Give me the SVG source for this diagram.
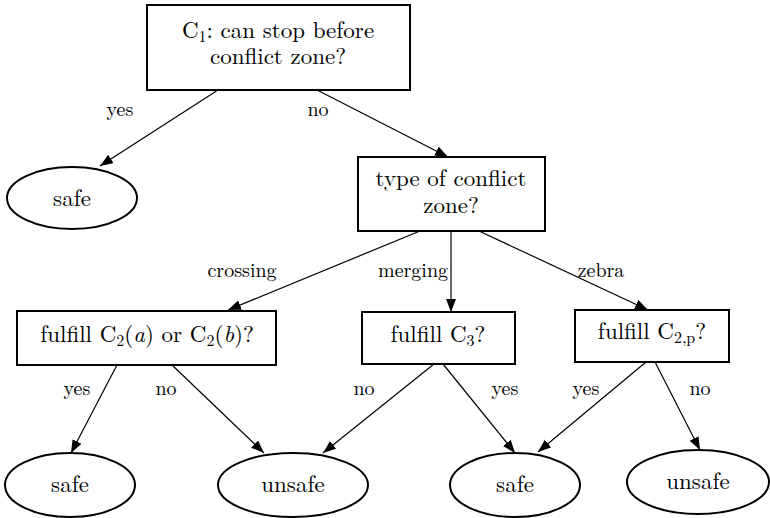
<svg xmlns="http://www.w3.org/2000/svg" width="770" height="518" viewBox="0 0 770 518">
<style>
.box{fill:#fff;stroke:#000;stroke-width:2}
.ell{fill:#fff;stroke:#000;stroke-width:2}
.t{font-size:23px;text-anchor:middle;fill:#000}
.l{font-size:20px;text-anchor:middle;fill:#000}
.e{stroke:#000;stroke-width:1.2;fill:none;marker-end:url(#ah)}
</style>
<defs>
<marker id="ah" markerUnits="userSpaceOnUse" markerWidth="14" markerHeight="11" refX="13" refY="5" orient="auto">
<path d="M0,0 L13,5 L0,10 z" fill="#000"/>
</marker>
</defs>
<g id="connectors">
<line class="e" x1="218" y1="90" x2="100" y2="166"/>
<line class="e" x1="317" y1="90" x2="448" y2="157"/>
<line class="e" x1="420" y1="231" x2="228" y2="310"/>
<line class="e" x1="451" y1="231" x2="451" y2="312"/>
<line class="e" x1="479" y1="231" x2="648" y2="310"/>
<line class="e" x1="117" y1="365" x2="71" y2="453"/>
<line class="e" x1="172" y1="365" x2="264" y2="453"/>
<line class="e" x1="434" y1="364" x2="323" y2="453"/>
<line class="e" x1="443" y1="364" x2="515" y2="453"/>
<line class="e" x1="646" y1="362" x2="538" y2="452"/>
<line class="e" x1="655" y1="362" x2="700" y2="450"/>
<text class="l" font-family="Latin Modern Roman, Liberation Serif, serif" x="120" y="116">yes</text>
<text class="l" font-family="Latin Modern Roman, Liberation Serif, serif" x="318" y="116">no</text>
<text class="l" font-family="Latin Modern Roman, Liberation Serif, serif" x="242" y="277">crossing</text>
<text class="l" font-family="Latin Modern Roman, Liberation Serif, serif" x="413" y="277">merging</text>
<text class="l" font-family="Latin Modern Roman, Liberation Serif, serif" x="601" y="277">zebra</text>
<text class="l" font-family="Latin Modern Roman, Liberation Serif, serif" x="77" y="395">yes</text>
<text class="l" font-family="Latin Modern Roman, Liberation Serif, serif" x="166" y="395">no</text>
<text class="l" font-family="Latin Modern Roman, Liberation Serif, serif" x="364" y="395">no</text>
<text class="l" font-family="Latin Modern Roman, Liberation Serif, serif" x="505" y="395">yes</text>
<text class="l" font-family="Latin Modern Roman, Liberation Serif, serif" x="586" y="395">yes</text>
<text class="l" font-family="Latin Modern Roman, Liberation Serif, serif" x="700" y="395">no</text>
</g>
<g id="n_c1">
<rect class="box" x="147" y="5" width="263" height="85"/>
<text class="t" font-family="Latin Modern Roman, Liberation Serif, serif" x="278" y="38">C<tspan font-size="16" dy="4">1</tspan><tspan dy="-4">: can stop before</tspan><tspan x="278" dy="26">conflict zone?</tspan></text>
</g>
<g id="n_safe_top">
<ellipse class="ell" cx="72" cy="198" rx="65" ry="31"/>
<text class="t" font-family="Latin Modern Roman, Liberation Serif, serif" x="72" y="206">safe</text>
</g>
<g id="n_type">
<rect class="box" x="358" y="157" width="187" height="74"/>
<text class="t" font-family="Latin Modern Roman, Liberation Serif, serif" x="451" y="186">type of conflict<tspan x="451" dy="27">zone?</tspan></text>
</g>
<g id="n_c2">
<rect class="box" x="17" y="311" width="259" height="54"/>
<text class="t" font-family="Latin Modern Roman, Liberation Serif, serif" x="147" y="342">fulfill C<tspan font-size="16" dy="4">2</tspan><tspan dy="-4">(</tspan><tspan font-style="italic">a</tspan>) or C<tspan font-size="16" dy="4">2</tspan><tspan dy="-4">(</tspan><tspan font-style="italic">b</tspan>)?</text>
</g>
<g id="n_c3">
<rect class="box" x="362" y="312" width="153" height="52"/>
<text class="t" font-family="Latin Modern Roman, Liberation Serif, serif" x="438" y="342">fulfill C<tspan font-size="16" dy="4">3</tspan><tspan dy="-4">?</tspan></text>
</g>
<g id="n_c2p">
<rect class="box" x="575" y="310" width="154" height="52"/>
<text class="t" font-family="Latin Modern Roman, Liberation Serif, serif" x="652" y="339">fulfill C<tspan font-size="16" dy="4">2,p</tspan><tspan dy="-4">?</tspan></text>
</g>
<g id="n_safe1">
<ellipse class="ell" cx="70" cy="485" rx="65" ry="32"/>
<text class="t" font-family="Latin Modern Roman, Liberation Serif, serif" x="70" y="492">safe</text>
</g>
<g id="n_unsafe1">
<ellipse class="ell" cx="293" cy="485" rx="75" ry="32"/>
<text class="t" font-family="Latin Modern Roman, Liberation Serif, serif" x="293" y="492">unsafe</text>
</g>
<g id="n_safe2">
<ellipse class="ell" cx="515" cy="485" rx="65" ry="32"/>
<text class="t" font-family="Latin Modern Roman, Liberation Serif, serif" x="515" y="492">safe</text>
</g>
<g id="n_unsafe2">
<ellipse class="ell" cx="698" cy="482" rx="71" ry="32"/>
<text class="t" font-family="Latin Modern Roman, Liberation Serif, serif" x="698" y="489">unsafe</text>
</g>
</svg>
